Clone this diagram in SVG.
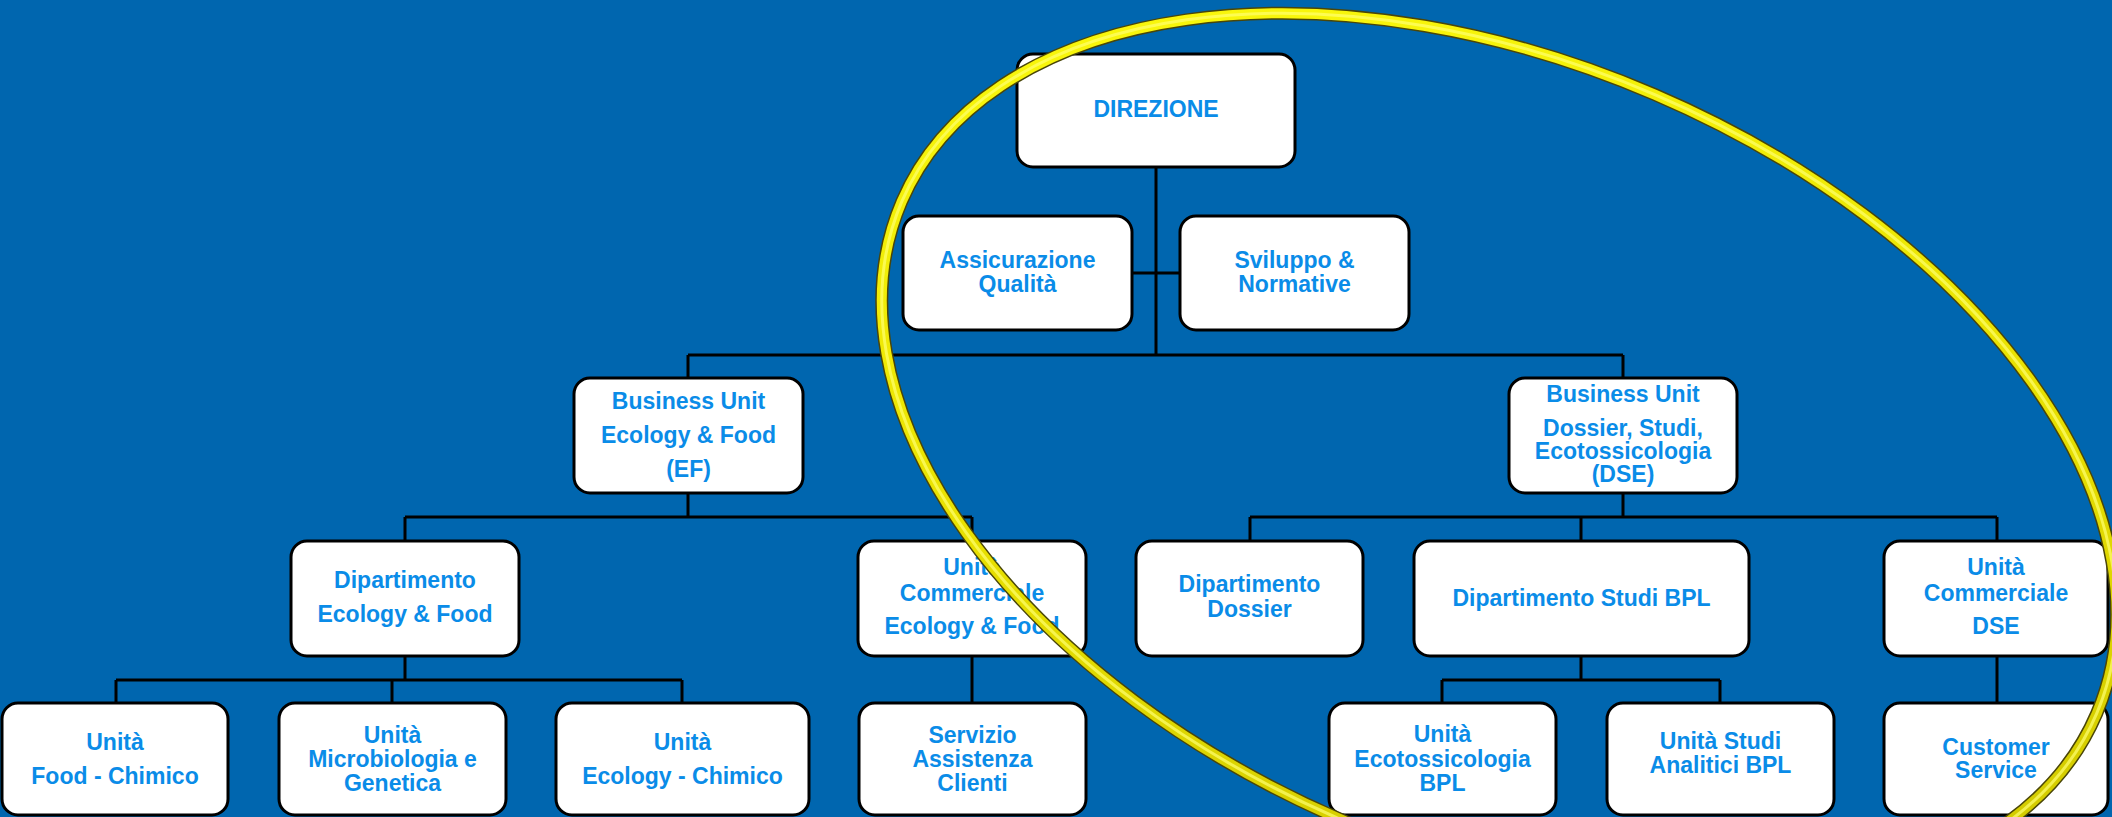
<svg xmlns="http://www.w3.org/2000/svg" width="2112" height="817" viewBox="0 0 2112 817">
<style>
.box{fill:#ffffff;stroke:#000000;stroke-width:3}
.t{font-family:"Liberation Sans",Arial,sans-serif;font-weight:bold;font-size:23px;fill:#0A8CE8;text-anchor:middle}
.c{stroke:#000000;stroke-width:3;fill:none}
</style>
<defs>
<linearGradient id="ring" x1="0" y1="0" x2="1" y2="1">
<stop offset="0" stop-color="#FFFF10"/>
<stop offset="0.5" stop-color="#E8E000"/>
<stop offset="1" stop-color="#C8C000"/>
</linearGradient>
<ellipse id="ringshape" cx="1499.2" cy="457.6" rx="650" ry="395" transform="rotate(23.2 1499.2 457.6)"/>
</defs>
<rect x="0" y="0" width="2112" height="817" fill="#0066AF"/>
<g id="connectors" class="c">
<path d="M1156 167V355M1132 273H1180M688 355H1623M688 355V378M1623 355V378"/>
<path d="M688 493V517M405 517H972M405 517V541M972 517V541"/>
<path d="M1623 493V517M1250 517H1997M1250 517V541M1581 517V541M1997 517V541"/>
<path d="M405 656V680M116 680H682M116 680V703M392 680V703M682 680V703"/>
<path d="M972 656V703"/>
<path d="M1581 656V680M1442 680H1720M1442 680V703M1720 680V703"/>
<path d="M1997 656V703"/>
</g>
<g id="direzione"><rect class="box" x="1017" y="54" width="278" height="113" rx="16"/><text class="t" x="1156" y="117">DIREZIONE</text></g>
<g id="assicurazione-qualita"><rect class="box" x="903" y="216" width="229" height="114" rx="16"/><text class="t" x="1017.5" y="268">Assicurazione</text><text class="t" x="1017.5" y="292">Qualità</text></g>
<g id="sviluppo-normative"><rect class="box" x="1180" y="216" width="229" height="114" rx="16"/><text class="t" x="1294.5" y="268">Sviluppo &amp;</text><text class="t" x="1294.5" y="292">Normative</text></g>
<g id="bu-ef"><rect class="box" x="574" y="378" width="229" height="115" rx="16"/><text class="t" x="688.5" y="409">Business Unit</text><text class="t" x="688.5" y="443">Ecology &amp; Food</text><text class="t" x="688.5" y="477">(EF)</text></g>
<g id="bu-dse"><rect class="box" x="1509" y="378" width="228" height="115" rx="16"/><text class="t" x="1623" y="402">Business Unit</text><text class="t" x="1623" y="436">Dossier, Studi,</text><text class="t" x="1623" y="459">Ecotossicologia</text><text class="t" x="1623" y="482">(DSE)</text></g>
<g id="dip-ef"><rect class="box" x="291" y="541" width="228" height="115" rx="16"/><text class="t" x="405" y="588">Dipartimento</text><text class="t" x="405" y="622">Ecology &amp; Food</text></g>
<g id="uc-ef"><rect class="box" x="858" y="541" width="228" height="115" rx="16"/><text class="t" x="972" y="575">Unità</text><text class="t" x="972" y="601">Commerciale</text><text class="t" x="972" y="634">Ecology &amp; Food</text></g>
<g id="dip-dossier"><rect class="box" x="1136" y="541" width="227" height="115" rx="16"/><text class="t" x="1249.5" y="592">Dipartimento</text><text class="t" x="1249.5" y="617">Dossier</text></g>
<g id="dip-studi-bpl"><rect class="box" x="1414" y="541" width="335" height="115" rx="16"/><text class="t" x="1581.5" y="606">Dipartimento Studi BPL</text></g>
<g id="uc-dse"><rect class="box" x="1884" y="541" width="224" height="115" rx="16"/><text class="t" x="1996" y="575">Unità</text><text class="t" x="1996" y="601">Commerciale</text><text class="t" x="1996" y="634">DSE</text></g>
<g id="food-chimico"><rect class="box" x="2" y="703" width="226" height="112" rx="16"/><text class="t" x="115" y="750">Unità</text><text class="t" x="115" y="784">Food - Chimico</text></g>
<g id="microbiologia"><rect class="box" x="279" y="703" width="227" height="112" rx="16"/><text class="t" x="392.5" y="743">Unità</text><text class="t" x="392.5" y="767">Microbiologia e</text><text class="t" x="392.5" y="791">Genetica</text></g>
<g id="ecology-chimico"><rect class="box" x="556" y="703" width="253" height="112" rx="16"/><text class="t" x="682.5" y="750">Unità</text><text class="t" x="682.5" y="784">Ecology - Chimico</text></g>
<g id="servizio-assistenza"><rect class="box" x="859" y="703" width="227" height="112" rx="16"/><text class="t" x="972.5" y="743">Servizio</text><text class="t" x="972.5" y="767">Assistenza</text><text class="t" x="972.5" y="791">Clienti</text></g>
<g id="ecotossicologia-bpl"><rect class="box" x="1329" y="703" width="227" height="112" rx="16"/><text class="t" x="1442.5" y="742">Unità</text><text class="t" x="1442.5" y="767">Ecotossicologia</text><text class="t" x="1442.5" y="791">BPL</text></g>
<g id="studi-analitici"><rect class="box" x="1607" y="703" width="227" height="112" rx="16"/><text class="t" x="1720.5" y="749">Unità Studi</text><text class="t" x="1720.5" y="773">Analitici BPL</text></g>
<g id="customer-service"><rect class="box" x="1884" y="703" width="224" height="112" rx="16"/><text class="t" x="1996" y="755">Customer</text><text class="t" x="1996" y="778">Service</text></g>
<g id="highlight-ring" fill="none">
<use href="#ringshape" stroke="#4A4608" stroke-width="13"/>
<use href="#ringshape" stroke="url(#ring)" stroke-width="10"/>
<use href="#ringshape" stroke="#FFFF70" stroke-width="3" stroke-opacity="0.7"/>
</g>
</svg>
